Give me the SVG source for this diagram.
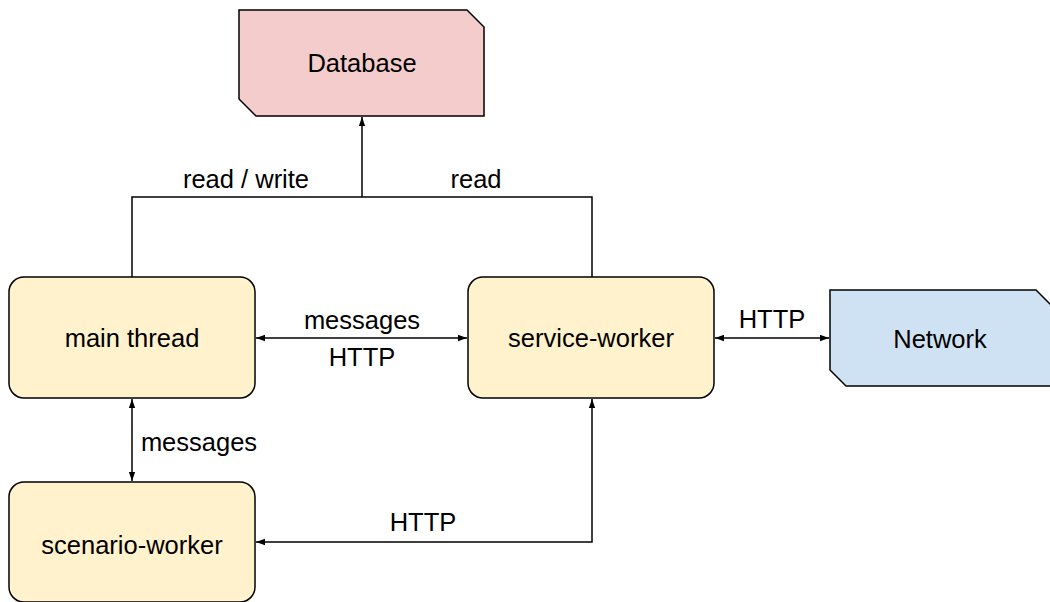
<svg xmlns="http://www.w3.org/2000/svg" width="1050" height="602" viewBox="0 0 1050 602">
  <style>
    .box { fill: #fff2cc; stroke: #000; stroke-width: 1.5; }
    .db { fill: #f4cccc; stroke: #000; stroke-width: 1.5; }
    .net { fill: #cfe2f3; stroke: #000; stroke-width: 1.5; }
    .label { font-family: "Liberation Sans", Arial, sans-serif; font-size: 25.5px; fill: #000; text-anchor: middle; dominant-baseline: central; }
    .edge { fill: none; stroke: #000; stroke-width: 1.5; }
  </style>
  <defs>
    <marker id="arrow" viewBox="0 0 10 10" refX="10" refY="5" markerWidth="9" markerHeight="9" markerUnits="userSpaceOnUse" orient="auto-start-reverse">
      <path d="M0,1.5 L10,5 L0,8.5 Z" fill="#000"/>
    </marker>
  </defs>
  <rect width="1050" height="602" fill="#fff"/>

  <!-- connectors -->
  <g id="connectors">
    <path class="edge" d="M132,277 V197 H592 V277"/>
    <path class="edge" d="M362,197 V117" marker-end="url(#arrow)"/>
    <path class="edge" d="M256,338 H467" marker-start="url(#arrow)" marker-end="url(#arrow)"/>
    <path class="edge" d="M715,338 H829" marker-start="url(#arrow)" marker-end="url(#arrow)"/>
    <path class="edge" d="M132,399 V481" marker-start="url(#arrow)" marker-end="url(#arrow)"/>
    <path class="edge" d="M256,542 H592 V399" marker-start="url(#arrow)" marker-end="url(#arrow)"/>
    <text class="label" x="246" y="179">read / write</text>
    <text class="label" x="476" y="179">read</text>
    <text class="label" x="362" y="320">messages</text>
    <text class="label" x="362" y="357">HTTP</text>
    <text class="label" x="772" y="319">HTTP</text>
    <text class="label" x="199" y="442">messages</text>
    <text class="label" x="423" y="522">HTTP</text>
  </g>

  <g id="database">
    <path class="db" d="M239,10 H467 L484,27 V116 H256 L239,99 Z"/>
    <text class="label" x="362" y="63">Database</text>
  </g>

  <g id="main-thread">
    <rect class="box" x="9" y="277" width="246" height="121" rx="15" ry="15"/>
    <text class="label" x="132" y="338">main thread</text>
  </g>

  <g id="service-worker">
    <rect class="box" x="468" y="277" width="246" height="121" rx="15" ry="15"/>
    <text class="label" x="591" y="338">service-worker</text>
  </g>

  <g id="network">
    <path class="net" d="M830,290 H1036 L1053,307 V386 H846 L830,370 Z"/>
    <text class="label" x="940" y="339">Network</text>
  </g>

  <g id="scenario-worker">
    <rect class="box" x="9" y="482" width="246" height="120" rx="15" ry="15"/>
    <text class="label" x="132" y="545">scenario-worker</text>
  </g>
</svg>
